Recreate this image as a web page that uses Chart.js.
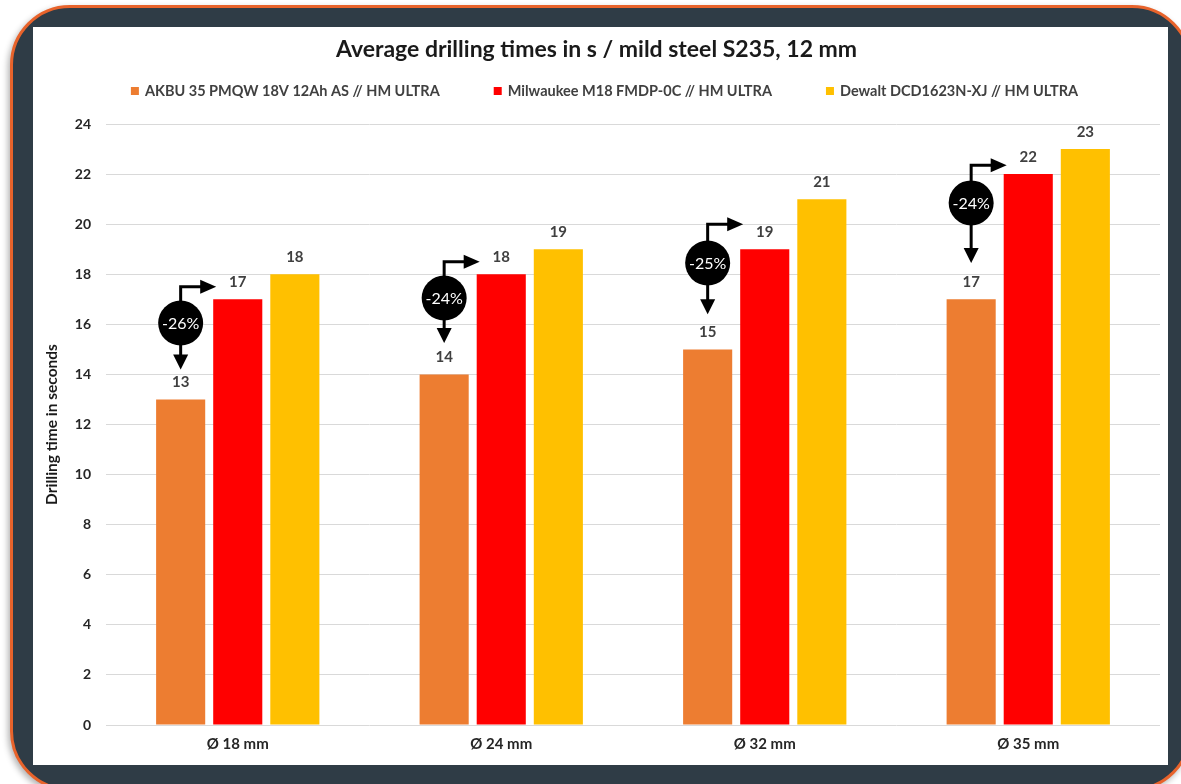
<!DOCTYPE html>
<html>
<head>
<meta charset="utf-8">
<script src="https://cdn.jsdelivr.net/npm/chart.js@4.4.0/dist/chart.umd.min.js"></script>
<style>
  html, body { margin: 0; padding: 0; background: #fff; width: 1181px; height: 784px; overflow: hidden; }
  #frame {
    position: absolute; left: 10px; top: 5px; width: 1182px; height: 786px;
    box-sizing: border-box; border: 3px solid #e8632b; border-radius: 60px;
    background: #2f3c46; box-shadow: -2px 3px 6px rgba(0,0,0,0.3);
  }
  #panel { position: absolute; left: 33px; top: 27px; width: 1135px; height: 738px; background: #fff; }
</style>
</head>
<body>
<div id="frame"></div>
<div id="panel"><canvas id="chart" width="1135" height="738"></canvas></div>
<script>
const categories = ['Ø 18 mm', 'Ø 24 mm', 'Ø 32 mm', 'Ø 35 mm'];
const seriesNames = [
  'AKBU 35 PMQW 18V 12Ah AS // HM ULTRA',
  'Milwaukee M18 FMDP-0C // HM ULTRA',
  'Dewalt DCD1623N-XJ // HM ULTRA'
];
const akbuTimes = [13, 14, 15, 17];
const milwaukeeTimes = [17, 18, 19, 22];
const dewaltTimes = [18, 19, 21, 23];

// the black "-xx%" badges between the AKBU and Milwaukee bars
const diffLabels = ['-26%', '-24%', '-25%', '-24%'];
const badgeLevel = [16.05, 17.05, 18.45, 20.85];
const arrowTopLevel = [17.5, 18.5, 20, 22.35];
const arrowTipLevel = [14.2, 15.25, 16.4, 18.45];

const FONT = 'Lato, "Open Sans", sans-serif';
const TEXT = '#404040';

const valueLabels = {
  id: 'valueLabels',
  afterDatasetsDraw(chart) {
    const ctx = chart.ctx;
    ctx.save();
    ctx.font = 'bold 15px ' + FONT;
    ctx.fillStyle = TEXT;
    ctx.textAlign = 'center';
    ctx.textBaseline = 'middle';
    chart.data.datasets.forEach((ds, i) => {
      chart.getDatasetMeta(i).data.forEach((bar, j) => {
        ctx.fillText(ds.data[j], bar.x, bar.y - 17);
      });
    });
    ctx.restore();
  }
};

const diffBadges = {
  id: 'diffBadges',
  afterDatasetsDraw(chart) {
    const ctx = chart.ctx;
    const y = chart.scales.y;
    const m0 = chart.getDatasetMeta(0).data;
    const m1 = chart.getDatasetMeta(1).data;
    ctx.save();
    ctx.strokeStyle = '#000';
    ctx.fillStyle = '#000';
    ctx.lineWidth = 3;
    diffLabels.forEach((txt, i) => {
      const cx = m0[i].x;
      const cy = y.getPixelForValue(badgeLevel[i]);
      const top = y.getPixelForValue(arrowTopLevel[i]);
      const tip = y.getPixelForValue(arrowTipLevel[i]);
      const right = m1[i].x - m1[i].width / 2 + 3;
      // elbow arrow to the right
      ctx.beginPath();
      ctx.moveTo(cx, cy);
      ctx.lineTo(cx, top);
      ctx.lineTo(right - 14, top);
      ctx.stroke();
      ctx.beginPath();
      ctx.moveTo(right, top);
      ctx.lineTo(right - 16, top - 7);
      ctx.lineTo(right - 16, top + 7);
      ctx.closePath();
      ctx.fill();
      // arrow down
      ctx.beginPath();
      ctx.moveTo(cx, cy);
      ctx.lineTo(cx, tip - 12);
      ctx.stroke();
      ctx.beginPath();
      ctx.moveTo(cx, tip);
      ctx.lineTo(cx - 7.5, tip - 15);
      ctx.lineTo(cx + 7.5, tip - 15);
      ctx.closePath();
      ctx.fill();
      // circle
      ctx.beginPath();
      ctx.arc(cx, cy, 22.5, 0, Math.PI * 2);
      ctx.fill();
      ctx.fillStyle = '#fff';
      ctx.font = '16px ' + FONT;
      ctx.textAlign = 'center';
      ctx.textBaseline = 'middle';
      ctx.fillText(txt, cx, cy + 1);
      ctx.fillStyle = '#000';
    });
    ctx.restore();
  }
};

const legendRow = {
  id: 'legendRow',
  afterDraw(chart) {
    const ctx = chart.ctx;
    ctx.save();
    ctx.font = 'bold 14.5px ' + FONT;
    ctx.textBaseline = 'middle';
    const box = 8, gap = 6, spacing = 54, yMid = 64;
    const widths = chart.data.datasets.map(ds => box + gap + ctx.measureText(ds.label).width);
    const total = widths.reduce((a, b) => a + b, 0) + spacing * (widths.length - 1);
    let x = (chart.width - total) / 2 + 4;
    chart.data.datasets.forEach((ds, i) => {
      ctx.fillStyle = ds.backgroundColor;
      ctx.fillRect(x, yMid - box / 2, box, box);
      ctx.fillStyle = TEXT;
      ctx.fillText(ds.label, x + box + gap, yMid);
      x += widths[i] + spacing;
    });
    ctx.restore();
  }
};

new Chart(document.getElementById('chart'), {
  type: 'bar',
  data: {
    labels: categories,
    datasets: [
      { label: seriesNames[0], data: akbuTimes, backgroundColor: '#ed7d31' },
      { label: seriesNames[1], data: milwaukeeTimes, backgroundColor: '#ff0000' },
      { label: seriesNames[2], data: dewaltTimes, backgroundColor: '#ffc000' }
    ]
  },
  options: {
    responsive: false,
    animation: false,
    devicePixelRatio: 1,
    categoryPercentage: 0.65,
    barPercentage: 0.86,
    layout: { padding: { top: 9, right: 8, bottom: 0, left: 0 } },
    plugins: {
      legend: { display: false },
      tooltip: { enabled: false },
      title: {
        display: true,
        text: 'Average drilling times in s / mild steel S235, 12 mm',
        color: '#1a1a1a',
        font: { family: FONT, size: 23, weight: 'bold', lineHeight: 1.2 },
        padding: { top: 0, bottom: 60.4 }
      }
    },
    scales: {
      x: {
        grid: { display: false, drawTicks: false },
        border: { display: false },
        ticks: { color: '#262626', padding: 10, font: { family: FONT, size: 15, weight: 'bold' } },
        afterFit(s) { s.height = 40; }
      },
      y: {
        min: 0, max: 24,
        ticks: { stepSize: 2, color: '#262626', padding: 15, font: { family: FONT, size: 14, weight: 'bold' } },
        grid: { color: '#d9d9d9', drawTicks: false },
        border: { display: false },
        title: {
          display: true,
          text: 'Drilling time in seconds',
          color: '#1a1a1a',
          font: { family: FONT, size: 15.5, weight: 'bold' },
          padding: { top: 9.5, bottom: 0 }
        },
        afterFit(s) { s.width = 73; }
      }
    }
  },
  plugins: [valueLabels, diffBadges, legendRow]
});
</script>
</body>
</html>
